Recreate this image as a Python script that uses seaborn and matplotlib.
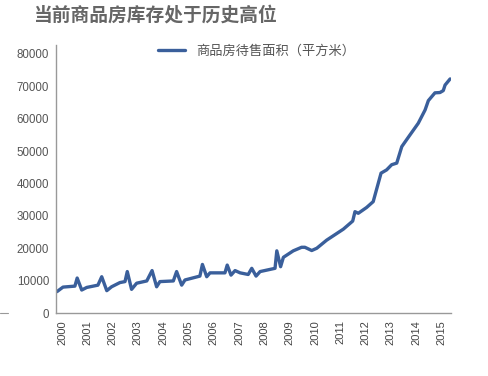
import pandas as pd
import numpy as np
import seaborn as sns
import matplotlib.pyplot as plt
from matplotlib.lines import Line2D

# values (time in decimal years, area in 万平方米)
year_pos = [1999.80, 2000.04, 2000.51, 2000.60, 2000.78, 2000.98, 2001.42, 2001.57, 2001.77, 2001.96,
            2002.29, 2002.49, 2002.58, 2002.75, 2002.95, 2003.35, 2003.56, 2003.74, 2003.87, 2004.40,
            2004.53, 2004.73, 2004.86, 2005.45, 2005.55, 2005.72, 2005.85, 2006.44, 2006.53, 2006.68,
            2006.84, 2007.04, 2007.36, 2007.50, 2007.67, 2007.83, 2008.42, 2008.49, 2008.64, 2008.75,
            2009.14, 2009.47, 2009.60, 2009.87, 2010.07, 2010.46, 2011.12, 2011.49, 2011.58, 2011.71,
            2012.04, 2012.30, 2012.61, 2012.83, 2013.03, 2013.23, 2013.43, 2013.69, 2014.08, 2014.35,
            2014.48, 2014.74, 2014.94, 2015.07, 2015.14, 2015.34]
area = [6600, 8000, 8300, 10800, 7100, 7900, 8600, 11200, 6900, 8100,
        9400, 9700, 12800, 7300, 9200, 9900, 13100, 8100, 9700, 9900,
        12800, 8600, 10200, 11400, 15000, 11200, 12400, 12400, 14800, 11700,
        13100, 12400, 11900, 13800, 11400, 12800, 13800, 19200, 14300, 17200,
        19200, 20300, 20300, 19300, 20000, 22500, 25900, 28400, 31300, 30800,
        32600, 34400, 43200, 44200, 45800, 46300, 51400, 54300, 58600, 62700,
        65600, 68000, 68100, 68700, 70400, 72300]
years = list(range(2000, 2016))
y_ticks = [0, 10000, 20000, 30000, 40000, 50000, 60000, 70000, 80000]

series_name = '商品房待售面积（平方米）'
df = pd.DataFrame({'t': year_pos, 'v': area, 's': series_name})

sns.set_style('white')
plt.rcParams['font.family'] = ['Liberation Sans', 'Noto Sans CJK SC', 'DejaVu Sans']

fig = plt.figure(figsize=(4.88, 3.76), dpi=100)
ax = fig.add_axes([56 / 488, 1 - 313 / 376, (451 - 56) / 488, (313 - 45) / 376])

sns.lineplot(data=df, x='t', y='v', hue='s', palette=['#3a5f9b'], sort=False,
             linewidth=2.4, ax=ax, solid_joinstyle='round', solid_capstyle='round')

ax.set_xlim(1999.763, 2015.375)
ax.set_ylim(0, 80000 * 268 / 259)
ax.set_xticks(years)
ax.set_xticklabels([str(y) for y in years], rotation=90, fontsize=8, color='#444444')
ax.set_yticks(y_ticks)
ax.set_yticklabels([str(v) for v in y_ticks], fontsize=8.3, color='#555555')
ax.tick_params(axis='both', length=0, pad=5)
ax.set_xlabel('')
ax.set_ylabel('')
for side in ['top', 'right']:
    ax.spines[side].set_visible(False)
for side in ['left', 'bottom']:
    ax.spines[side].set_color('#999999')
    ax.spines[side].set_linewidth(1.0)

leg = ax.legend(loc='upper center', bbox_to_anchor=(0.507, 1.045), frameon=False,
                handlelength=2.1, handletextpad=0.8,
                prop={'family': ['Noto Sans CJK SC', 'DejaVu Sans'], 'size': 9.5})
for txt in leg.get_texts():
    txt.set_color('#555555')

fig.text(33 / 488, 1 - 15 / 376, '当前商品房库存处于历史高位', fontsize=13.5, fontweight='bold',
         color='#666666', va='center', ha='left', family=['Noto Sans CJK SC', 'DejaVu Sans'])

# small stray dash at the left edge
fig.add_artist(Line2D([0, 8 / 488], [1 - 313 / 376, 1 - 313 / 376], color='#999999', linewidth=0.8))

fig.savefig('out.png', dpi=100, facecolor='white')
